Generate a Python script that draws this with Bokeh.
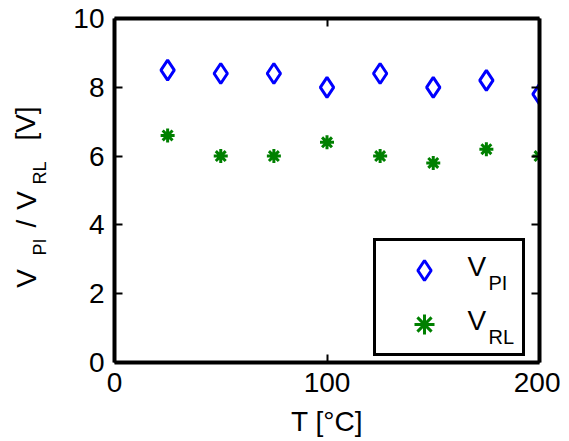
from bokeh.plotting import figure
from bokeh.layouts import row
from bokeh.models import (Range1d, FixedTicker, LinearAxis, Label, Legend, LegendItem,
                          ColumnDataSource)
from bokeh.core.properties import value
from bokeh.embed import file_html
from bokeh.resources import INLINE
import math

# ---- data ----
temps = [25, 50, 75, 100, 125, 150, 175, 200]
v_pi = [8.5, 8.4, 8.4, 8.0, 8.4, 8.0, 8.2, 7.8]
v_rl = [6.6, 6.0, 6.0, 6.4, 6.0, 5.8, 6.2, 6.0]
x_ticks = [0, 100, 200]
y_ticks = [0, 2, 4, 6, 8, 10]
x_title = "T [°C]"

FONT = "Liberation Sans"
BLUE = "#0000FF"
GREEN = "#008000"
H = 440
LW = 50  # width of the y-label strip
TOP = 18
BOTTOM = 78
FB = H - BOTTOM  # frame bottom in page pixels

# ---- y-label strip (separate figure so the text is not clipped) ----
yl_fig = figure(width=LW, height=H, output_backend="svg", toolbar_location=None,
                x_range=Range1d(0, 1), y_range=Range1d(0, 1),
                min_border_left=0, min_border_right=0,
                min_border_top=TOP, min_border_bottom=BOTTOM,
                x_axis_location=None, y_axis_location=None)
yl_fig.grid.visible = False
yl_fig.outline_line_color = None


def lab(fig, text, x, y, size, angle=0.0, align="left"):
    fig.add_layout(Label(x=x, y=y, x_units="screen", y_units="screen", text=text,
                         text_font=FONT, text_font_size=f"{size}px",
                         text_color="black", angle=angle, text_align=align,
                         text_baseline="middle"))


rot = math.pi / 2
lab(yl_fig, "V", 26, FB - 278, 28, rot, "center")
lab(yl_fig, "PI", 39, FB - 246.5, 18, rot, "center")
lab(yl_fig, "/", 26, FB - 223, 28, rot, "center")
lab(yl_fig, "V", 26, FB - 200, 28, rot, "center")
lab(yl_fig, "RL", 39, FB - 172.5, 18, rot, "center")
lab(yl_fig, "[V]", 25, FB - 123, 28, rot, "center")

# ---- main plot ----
p = figure(width=560 - LW, height=H, output_backend="svg", toolbar_location=None,
           x_range=Range1d(0, 200), y_range=Range1d(0, 10),
           min_border_left=114 - LW, min_border_right=21, min_border_top=TOP,
           min_border_bottom=BOTTOM, x_axis_location=None, y_axis_location=None)
p.grid.visible = False
p.outline_line_color = None
p.background_fill_color = "white"
p.border_fill_color = "white"


def style_axis(ax, ticks, show_labels, standoff):
    ax.ticker = FixedTicker(ticks=ticks)
    ax.axis_line_color = "black"
    ax.axis_line_width = 4
    ax.major_tick_in = 8
    ax.major_tick_out = 0
    ax.major_tick_line_width = 2
    ax.major_tick_line_color = "black"
    ax.minor_tick_line_color = None
    ax.major_label_text_font = FONT
    if show_labels:
        ax.major_label_text_font_size = "28px"
        ax.major_label_text_color = "black"
        ax.major_label_standoff = standoff
    else:
        ax.major_label_text_font_size = "1px"
        ax.major_label_text_alpha = 0
        ax.major_label_standoff = 0


xb = LinearAxis(); style_axis(xb, x_ticks, True, 10)
xb.axis_label = x_title
xb.axis_label_text_font = FONT
xb.axis_label_text_font_size = "28px"
xb.axis_label_text_font_style = "normal"
xb.axis_label_text_color = "black"
xb.axis_label_standoff = 11
p.add_layout(xb, "below")
yl = LinearAxis(); style_axis(yl, y_ticks, True, 10); p.add_layout(yl, "left")
xt = LinearAxis(); style_axis(xt, x_ticks, False, 0); p.add_layout(xt, "above")
yr = LinearAxis(); style_axis(yr, y_ticks, False, 0); p.add_layout(yr, "right")

src = ColumnDataSource(dict(t=temps, vpi=v_pi, vrl=v_rl))
r_pi = p.scatter("t", "vpi", source=src, marker="diamond", size=20,
                 fill_color=None, line_color=BLUE, line_width=3)
r_rl = p.scatter("t", "vrl", source=src, marker="asterisk", size=14,
                 line_color=GREEN, line_width=3)

legend = Legend(items=[LegendItem(label=value(" "), renderers=[r_pi]),
                       LegendItem(label=value("  "), renderers=[r_rl])],
                location=(259, 6), padding=4, spacing=4, margin=0,
                glyph_width=88, glyph_height=50, label_standoff=0,
                label_width=50, label_height=50, label_text_font_size="10px",
                border_line_color="black", border_line_width=3, border_line_alpha=1,
                background_fill_color="white", background_fill_alpha=0)
p.add_layout(legend, "center")

# legend texts (inside the frame)
lab(p, "V", 353, 96.5, 28)
lab(p, "PI", 374, 79.5, 20)
lab(p, "V", 353, 42.5, 28)
lab(p, "RL", 374, 25.5, 20)

layout = row(yl_fig, p, spacing=0)
open("out.html", "w").write(file_html(layout, INLINE))
